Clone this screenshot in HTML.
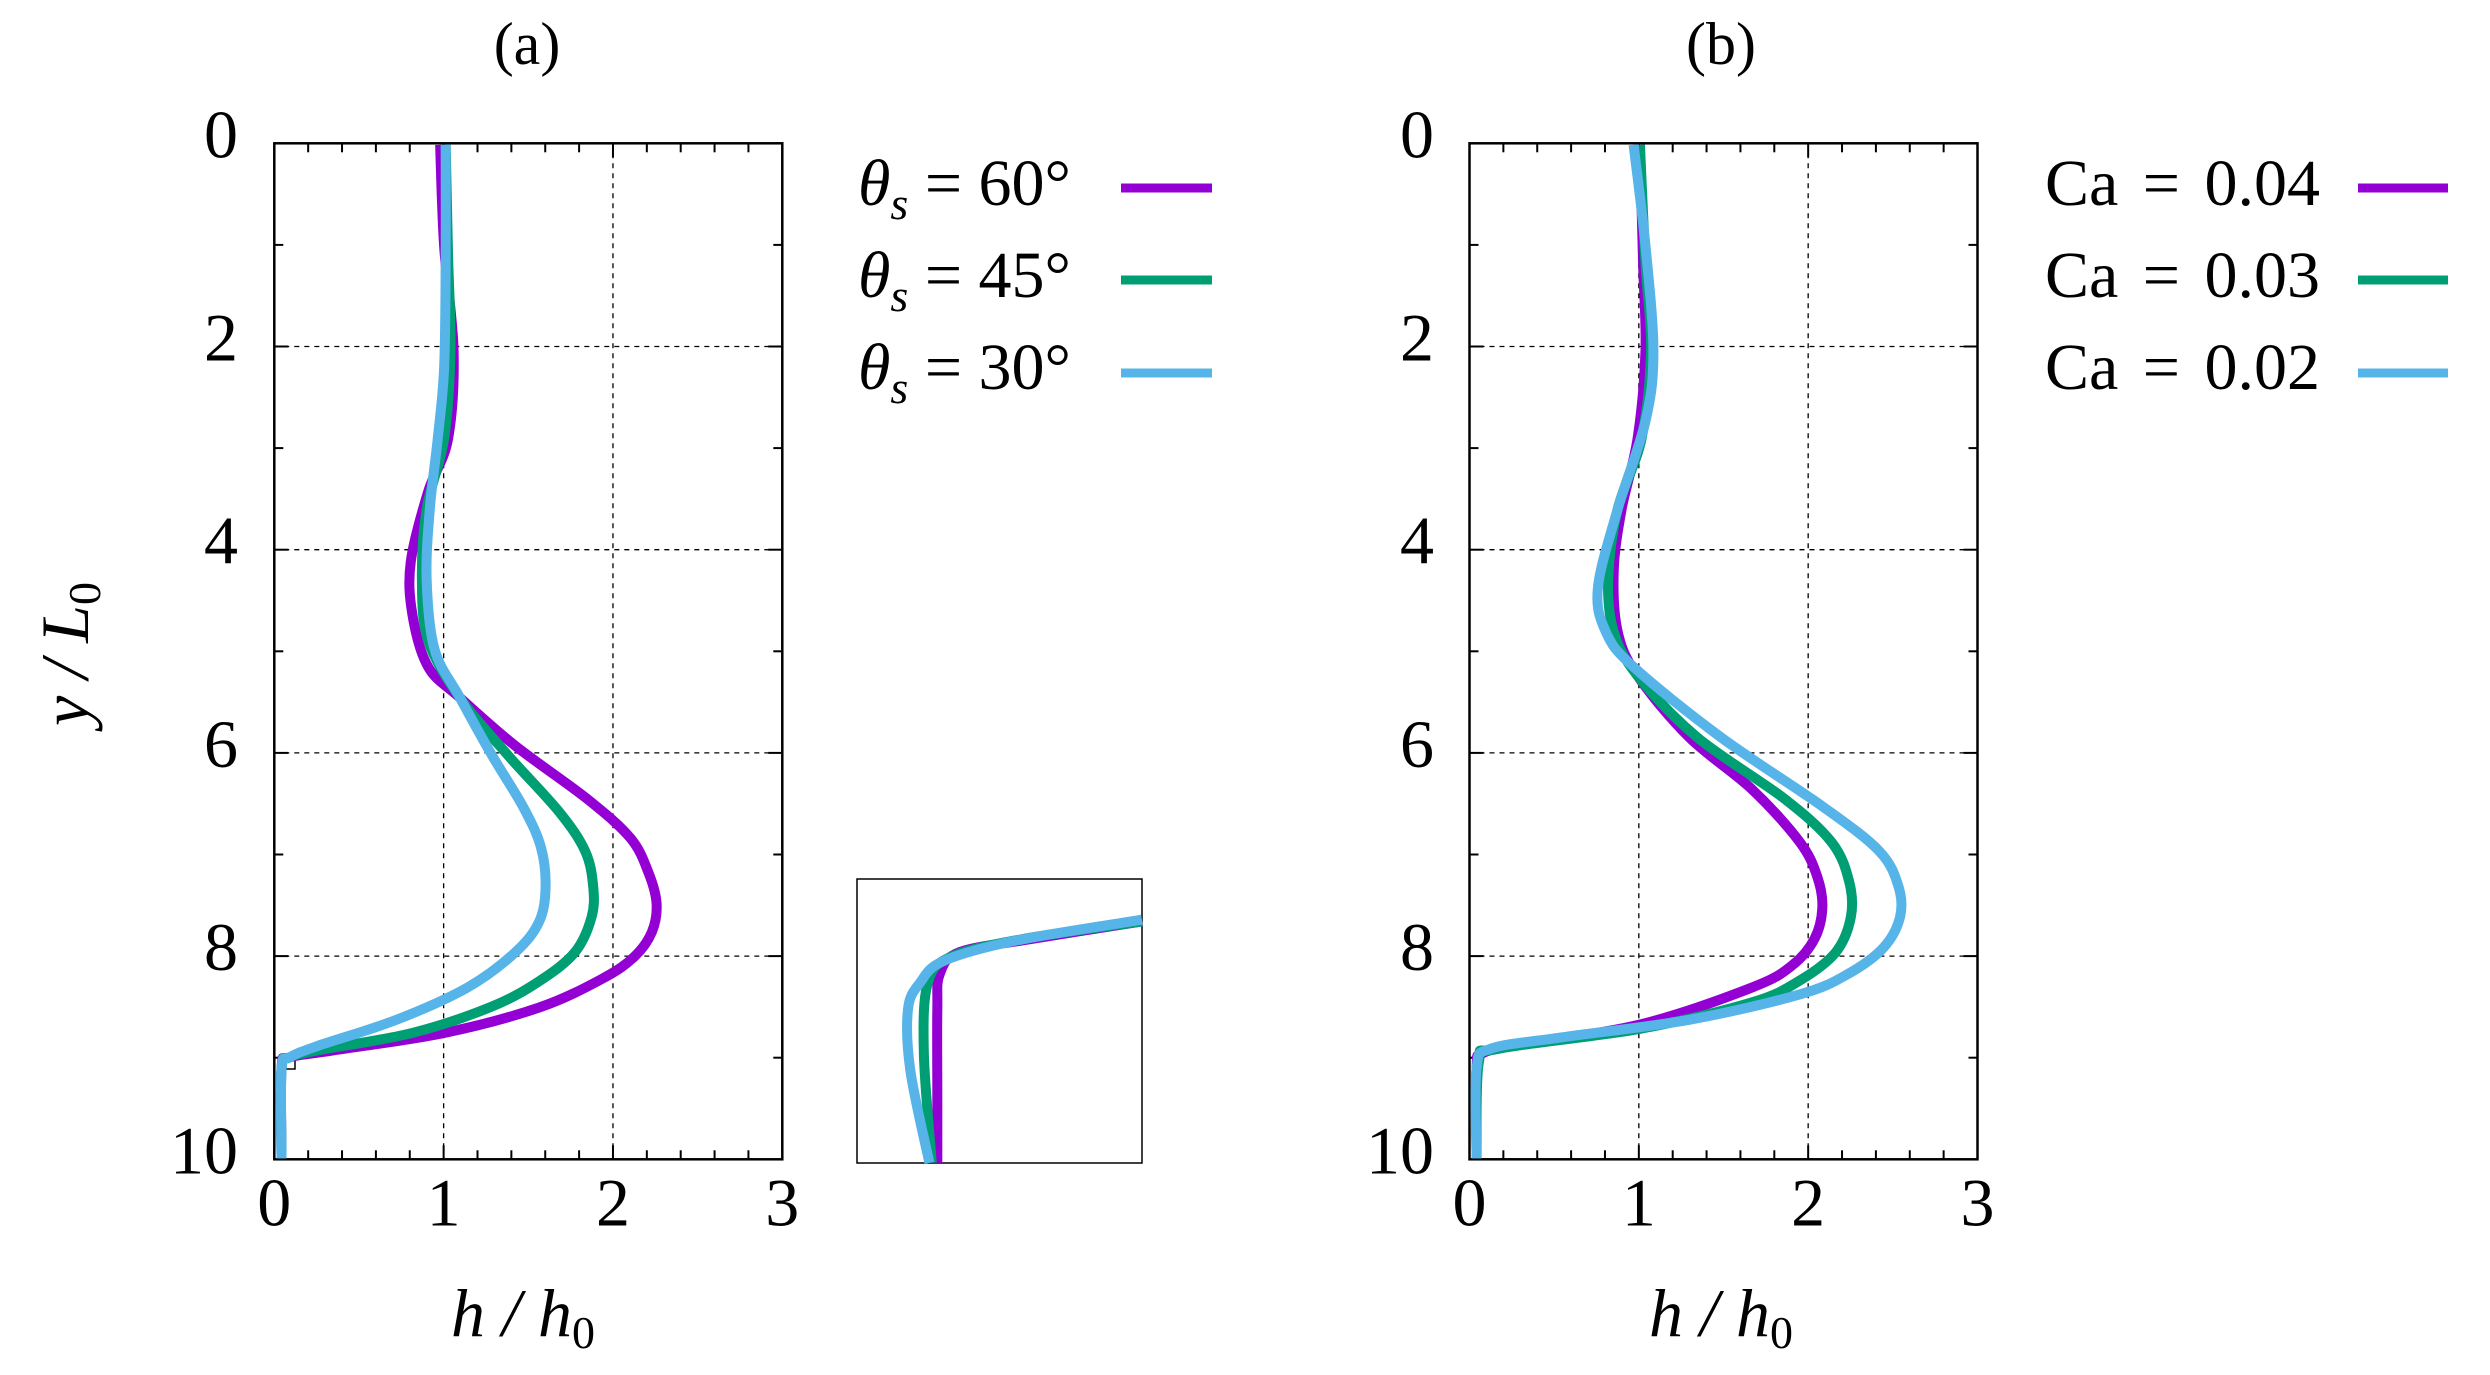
<!DOCTYPE html>
<html><head><meta charset="utf-8">
<style>
html,body{margin:0;padding:0;background:#fff;}
svg{display:block;}
text{font-family:"Liberation Serif",serif;fill:#000;}
</style></head>
<body>
<svg id="s" width="2490" height="1375" viewBox="0 0 2490 1375" xmlns="http://www.w3.org/2000/svg">
<rect width="2490" height="1375" fill="#fff"/>
<g id="axes"></g>
<g id="curves"></g>
<text x="527" y="64" font-size="60" text-anchor="middle">(a)</text>
<text x="1721" y="64" font-size="60" text-anchor="middle">(b)</text>
<text x="523" y="1336" font-size="68" text-anchor="middle" font-style="italic">h<tspan font-style="normal"> </tspan>/<tspan font-style="normal"> </tspan>h<tspan font-style="normal" font-size="46" dy="12">0</tspan></text>
<text x="1721" y="1336" font-size="68" text-anchor="middle" font-style="italic">h<tspan font-style="normal"> </tspan>/<tspan font-style="normal"> </tspan>h<tspan font-style="normal" font-size="46" dy="12">0</tspan></text>
<text transform="translate(88,654) rotate(-90)" font-size="68" text-anchor="middle" font-style="italic">y<tspan font-style="normal"> </tspan>/<tspan font-style="normal"> </tspan>L<tspan font-style="normal" font-size="46" dy="12">0</tspan></text>
<g font-size="66">
<text x="858" y="205" font-style="italic">θ<tspan font-size="46" dy="14">s</tspan><tspan font-style="normal" dy="-14">  =  60°</tspan></text>
<text x="858" y="297" font-style="italic">θ<tspan font-size="46" dy="14">s</tspan><tspan font-style="normal" dy="-14">  =  45°</tspan></text>
<text x="858" y="389" font-style="italic">θ<tspan font-size="46" dy="14">s</tspan><tspan font-style="normal" dy="-14">  =  30°</tspan></text>
<text x="2320" y="205" text-anchor="end" word-spacing="8">Ca = 0.04</text>
<text x="2320" y="297" text-anchor="end" word-spacing="8">Ca = 0.03</text>
<text x="2320" y="389" text-anchor="end" word-spacing="8">Ca = 0.02</text>
</g>
<g stroke-width="9">
<line x1="1121" y1="188" x2="1212" y2="188" stroke="#9400D3"/>
<line x1="1121" y1="280" x2="1212" y2="280" stroke="#009E73"/>
<line x1="1121" y1="373" x2="1212" y2="373" stroke="#56B4E9"/>
<line x1="2358" y1="188" x2="2448" y2="188" stroke="#9400D3"/>
<line x1="2358" y1="280" x2="2448" y2="280" stroke="#009E73"/>
<line x1="2358" y1="373" x2="2448" y2="373" stroke="#56B4E9"/>
</g>
</svg>
<script>
(function(){
var NS="http://www.w3.org/2000/svg";
var axes=document.getElementById('axes'), cv=document.getElementById('curves');
function el(p,tag,at){var e=document.createElementNS(NS,tag);for(var k in at)e.setAttribute(k,at[k]);p.appendChild(e);return e;}
function panel(L,R,T,B,labx){
  var ux=(R-L)/3, uy=(B-T)/10;
  [1,2].forEach(function(h){var x=L+h*ux;el(axes,'line',{x1:x,y1:T,x2:x,y2:B,stroke:'#000','stroke-width':1.3,'stroke-dasharray':'5,5'});});
  [2,4,6,8].forEach(function(v){var y=T+v*uy;el(axes,'line',{x1:L,y1:y,x2:R,y2:y,stroke:'#000','stroke-width':1.3,'stroke-dasharray':'5,5'});});
  for(var i=1;i<15;i++){var x=L+i*ux/5,len=(i%5==0)?14:9;
    el(axes,'line',{x1:x,y1:B,x2:x,y2:B-len,stroke:'#000','stroke-width':2});
    el(axes,'line',{x1:x,y1:T,x2:x,y2:T+len,stroke:'#000','stroke-width':2});}
  for(var j=1;j<10;j++){var y=T+j*uy,len=(j%2==0)?14:9;
    el(axes,'line',{x1:L,y1:y,x2:L+len,y2:y,stroke:'#000','stroke-width':2});
    el(axes,'line',{x1:R,y1:y,x2:R-len,y2:y,stroke:'#000','stroke-width':2});}
  el(axes,'rect',{x:L,y:T,width:R-L,height:B-T,fill:'none',stroke:'#000','stroke-width':2.5});
  for(var k=0;k<=10;k+=2){var t=el(axes,'text',{x:labx,y:T+k*uy+14,'font-size':68,'text-anchor':'end'});t.textContent=k;}
  for(var h=0;h<=3;h++){var t=el(axes,'text',{x:L+h*ux,y:B+66,'font-size':68,'text-anchor':'middle'});t.textContent=h;}
}
panel(274.3,782.3,143.3,1159.3,238);
panel(1469.5,1977.5,143.3,1159.3,1434);
function cr(pts){var d='M'+pts[0][0]+','+pts[0][1];
  for(var i=0;i<pts.length-1;i++){var p0=pts[i-1]||pts[i],p1=pts[i],p2=pts[i+1],p3=pts[i+2]||p2;
    d+=' C'+(p1[0]+(p2[0]-p0[0])/6)+','+(p1[1]+(p2[1]-p0[1])/6)+' '+(p2[0]-(p3[0]-p1[0])/6)+','+(p2[1]-(p3[1]-p1[1])/6)+' '+p2[0]+','+p2[1];}
  return d;}
function curve(pts,ox,col){
  var q=pts.map(function(p){return [ox+p[0]*0.793,p[1]*0.8776];});
  el(cv,'path',{d:cr(q),fill:'none',stroke:col,'stroke-width':10,'stroke-linejoin':'round','stroke-linecap':'butt'});}
var P='#9400D3',G='#009E73',Bl='#56B4E9';
curve([[555,165],[560,280],[572,400],[565,500],[540,560],[518,640],[520,700],[540,760],[580,795],[650,850],[740,910],[795,955],[818,995],[828,1030],[822,1062],[800,1090],[760,1115],[680,1148],[560,1177],[420,1197],[365,1205],[355,1218],[355,1320]],0,P);
curve([[562,165],[565,290],[568,400],[560,500],[538,580],[532,660],[540,730],[580,795],[640,860],[705,925],[738,970],[748,1010],[746,1045],[725,1085],[680,1118],[620,1147],[520,1177],[400,1197],[365,1205],[355,1218],[355,1320]],0,G);
curve([[562,165],[562,300],[560,420],[552,500],[542,580],[538,660],[548,740],[580,795],[620,860],[660,920],[682,965],[688,1010],[680,1050],[650,1085],[590,1125],[500,1162],[400,1192],[365,1205],[355,1218],[355,1320]],0,Bl);
el(axes,'rect',{x:857,y:879,width:285,height:284,fill:'none',stroke:'#000','stroke-width':1.5});
el(axes,'rect',{x:280,y:1055,width:15,height:14,fill:'none',stroke:'#000','stroke-width':1.5});
curve([[1440,1050],[1300,1070],[1210,1085],[1185,1110],[1182,1150],[1182,1250],[1182,1325]],0,P);
curve([[1440,1050],[1290,1070],[1200,1090],[1170,1120],[1165,1200],[1175,1325]],0,G);
curve([[1440,1048],[1280,1072],[1190,1095],[1160,1120],[1145,1150],[1148,1220],[1172,1325]],0,Bl);
var ob=1245;
curve([[498,165],[502,300],[505,400],[495,500],[475,580],[465,650],[470,720],[495,770],[560,840],[640,900],[700,960],[722,1000],[728,1035],[718,1070],[690,1100],[640,1125],[500,1167],[350,1190],[300,1200],[292,1218],[292,1320]],ob,P);
curve([[498,165],[505,300],[512,400],[500,500],[470,580],[458,660],[465,720],[495,770],[570,840],[680,910],[740,960],[762,1005],[764,1045],[745,1085],[700,1117],[640,1142],[500,1172],[320,1195],[295,1210],[292,1320]],ob,G);
curve([[490,165],[505,280],[515,400],[505,480],[470,580],[445,670],[455,720],[490,760],[600,840],[730,920],[800,970],[824,1010],[826,1045],[805,1080],[760,1110],[700,1133],[560,1162],[400,1182],[310,1195],[292,1218],[292,1320]],ob,Bl);
})();
</script>
</body></html>
